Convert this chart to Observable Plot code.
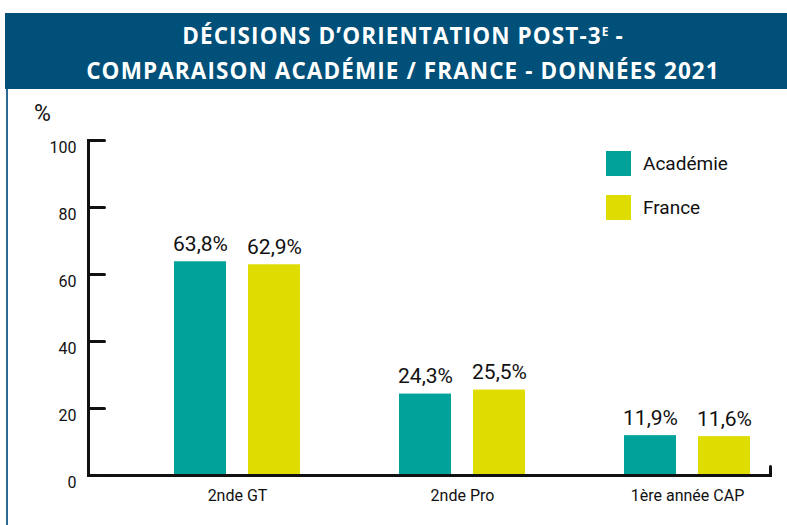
<!DOCTYPE html>
<html><head><meta charset="utf-8">
<script src="https://cdn.jsdelivr.net/npm/d3@7"></script>
<script src="https://cdn.jsdelivr.net/npm/@observablehq/plot@0.6"></script>
<style>
body{margin:0;background:#fff;width:787px;height:525px;overflow:hidden;position:relative;font-family:"Roboto",sans-serif;}
#hdr{position:absolute;left:5px;top:13px;width:782px;height:76px;background:#005079;color:#fff;font-family:"Open Sans",sans-serif;font-weight:700;font-size:22.5px;line-height:31px;text-align:center;padding-top:7px;box-sizing:border-box;padding-left:14px;letter-spacing:1.1px}
#hdr .sup{font-size:12px;position:relative;top:-8px;letter-spacing:0}
#left{position:absolute;left:6px;top:89px;width:2px;height:436px;background:#2a6a94}
.plot{position:absolute;left:0;top:89px}
#pct{position:absolute;left:34px;top:100px;font-size:23px;color:#111}
.leg{position:absolute;left:606px;display:flex;align-items:center;font-size:19px;color:#111}
.leg span{display:inline-block;width:25px;height:25px;margin-right:12px}
</style></head><body>
<div id="hdr"><div>DÉCISIONS D’ORIENTATION POST-3<span class="sup">E</span> -</div><div>COMPARAISON ACADÉMIE / FRANCE - DONNÉES 2021</div></div>
<div id="left"></div>
<div id="pct">%</div>
<div class="leg" style="top:151px"><span style="background:#00a29a"></span>Académie</div>
<div class="leg" style="top:195px"><span style="background:#dedc00"></span>France</div>
<div id="chart" class="plot"></div>
<div id="axes" class="plot"></div>
<script>
const categories = ["2nde GT", "2nde Pro", "1ère année CAP"];
const series = ["Académie", "France"];
const academie = [63.8, 24.3, 11.9];
const france = [62.9, 25.5, 11.6];
const colors = ["#00a29a", "#dedc00"];
const yTicks = [0, 20, 40, 60, 80, 100];

const data = [];
categories.forEach((c, i) => {
  data.push({cat: c, serie: series[0], value: academie[i]});
  data.push({cat: c, serie: series[1], value: france[i]});
});
const fmt = v => v.toFixed(1).replace(".", ",") + "%";
const line = {draw(ctx, l) { ctx.moveTo(0, 0); ctx.lineTo(0, -l); }};
const font = 'Roboto, sans-serif';

const dims = {width: 787, height: 436, marginLeft: 88, marginRight: 17, marginTop: 51, marginBottom: 50};

const chart = Plot.plot({
  ...dims,
  style: {fontFamily: font, fontSize: "16px", color: "#111", background: "transparent"},
  fx: {domain: categories, paddingInner: 0.4311, paddingOuter: 0.2311, align: 0.8173, axis: null},
  x: {domain: series, paddingInner: 0.2933, paddingOuter: 0, axis: null},
  y: {domain: [0, 100], axis: null},
  color: {domain: series, range: colors},
  marks: [
    Plot.barY(data, {fx: "cat", x: "serie", y: "value", fill: "serie"}),
    Plot.text(data, {fx: "cat", x: "serie", y: "value", text: d => fmt(d.value), lineAnchor: "bottom", dy: -11, fontSize: 21, fill: "#111"}),
    Plot.axisFx({anchor: "bottom", tickSize: 0, tickPadding: 14, label: null, fontSize: 16, fill: "#111"})
  ]
});
document.getElementById("chart").appendChild(chart);

const axes = Plot.plot({
  ...dims,
  style: {fontFamily: font, color: "#111", background: "transparent"},
  y: {domain: [0, 100], axis: null},
  marks: [
    Plot.frame({anchor: "left", stroke: "#111", strokeWidth: 3}),
    Plot.frame({anchor: "bottom", stroke: "#111", strokeWidth: 3}),
    Plot.vector(yTicks, {y: d => d, frameAnchor: "left", rotate: 90, length: 16, anchor: "start", shape: line, stroke: "#111", strokeWidth: 3}),
    Plot.vector([0], {y: d => d, frameAnchor: "right", rotate: 0, length: 9, anchor: "start", shape: line, stroke: "#111", strokeWidth: 3}),
    Plot.text(yTicks, {y: d => d, text: d => String(d), frameAnchor: "left", textAnchor: "end", dx: -12, dy: 7, fontSize: 16, fill: "#111"})
  ]
});
document.getElementById("axes").appendChild(axes);
</script>
</body></html>
